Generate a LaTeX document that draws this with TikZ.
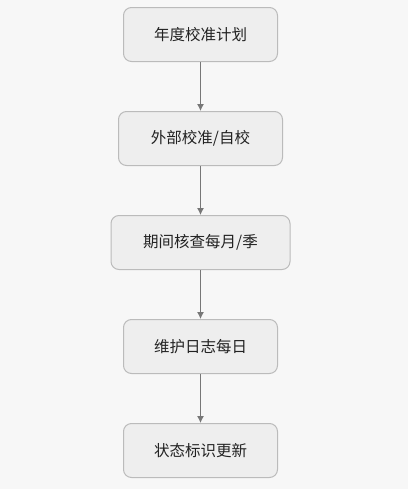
\documentclass[tikz,border=0pt]{standalone}
\usepackage{fontspec}
\newfontfamily\cjk{Noto Sans CJK SC}
\usetikzlibrary{positioning}
\definecolor{bgcol}{HTML}{F7F7F7}
\definecolor{boxfill}{HTML}{EEEEEE}
\definecolor{boxline}{HTML}{BBBBBB}
\definecolor{arrowcol}{HTML}{777777}
\definecolor{textcol}{HTML}{222222}
\tikzset{
    stepbox/.style={draw=boxline, fill=boxfill, line width=1bp, rounded corners=8bp,
        minimum height=54bp, inner sep=0pt, text=textcol, font=\cjk\fontsize{15.5bp}{18bp}\selectfont},
    flow/.style={draw=arrowcol, line width=1bp, -{Latex[length=7bp,width=7bp]}}
}
\usetikzlibrary{arrows.meta}
\begin{document}
\begin{tikzpicture}[node distance=49bp]
        % the background and size
        \fill[bgcol] (0,0) rectangle (408bp,-489bp);
        \useasboundingbox (0,0) rectangle (408bp,-489bp);
        % the steps, top to bottom
        \node[stepbox, minimum width=154bp] (plan) at (200.5bp,-34.5bp) {年度校准计划};
        \node[stepbox, minimum width=164bp, below=of plan] (calib) {外部校准/自校};
        \node[stepbox, minimum width=179bp, below=of calib] (check) {期间核查每月/季};
        \node[stepbox, minimum width=154bp, below=of check] (log) {维护日志每日};
        \node[stepbox, minimum width=154bp, below=of log] (label) {状态标识更新};
        % arrows between the steps
        \draw[flow] (plan) -- (calib);
        \draw[flow] (calib) -- (check);
        \draw[flow] (check) -- (log);
        \draw[flow] (log) -- (label);
\end{tikzpicture}
\end{document}
